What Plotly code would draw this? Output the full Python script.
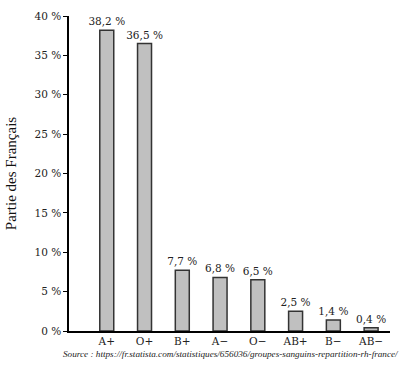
import plotly.graph_objects as go

groups = ["A+", "O+", "B+", "A−", "O−", "AB+", "B−", "AB−"]
values = [38.2, 36.5, 7.7, 6.8, 6.5, 2.5, 1.4, 0.4]
labels = ["38,2 %", "36,5 %", "7,7 %", "6,8 %", "6,5 %", "2,5 %", "1,4 %", "0,4 %"]
yticks = [0, 5, 10, 15, 20, 25, 30, 35, 40]
yticktext = ["0 %", "5 %", "10 %", "15 %", "20 %", "25 %", "30 %", "35 %", "40 %"]

fig = go.Figure(go.Bar(
    x=list(range(len(groups))), y=values, text=labels, textposition="outside",
    constraintext="none",
    textfont=dict(family="DejaVu Serif", size=10.5, color="#222"),
    marker=dict(color="#c0c0c0", line=dict(color="#333", width=1.5)),
    width=0.37, cliponaxis=False,
))
fig.update_layout(
    width=400, height=372, margin=dict(l=65, r=10, t=11, b=41),
    plot_bgcolor="white", paper_bgcolor="white", showlegend=False,
    font=dict(family="DejaVu Serif", size=10.5, color="#222"),
    xaxis=dict(range=[-1, 7.5], tickvals=list(range(len(groups))), ticktext=groups,
               showline=True, linecolor="black", linewidth=1.5, showgrid=False,
               zeroline=False, ticks="", tickfont=dict(size=10.5)),
    yaxis=dict(range=[0, 40], tickvals=yticks, ticktext=yticktext,
               showline=True, linecolor="black", linewidth=1.5, showgrid=False,
               zeroline=False, ticks="outside", ticklen=4, tickcolor="black",
               tickfont=dict(size=10.5),
               title=dict(text="Partie des Français", standoff=14,
                          font=dict(family="Liberation Serif", size=15, color="#111"))),
    annotations=[dict(
        text="<i>Source : https://fr.statista.com/statistiques/656036/groupes-sanguins-repartition-rh-france/</i>",
        xref="paper", yref="paper", x=0.505, y=-0.05, xanchor="center", yanchor="top",
        showarrow=False, font=dict(family="Liberation Serif", size=9.2, color="#222"))],
)
fig.write_html("out.html")
